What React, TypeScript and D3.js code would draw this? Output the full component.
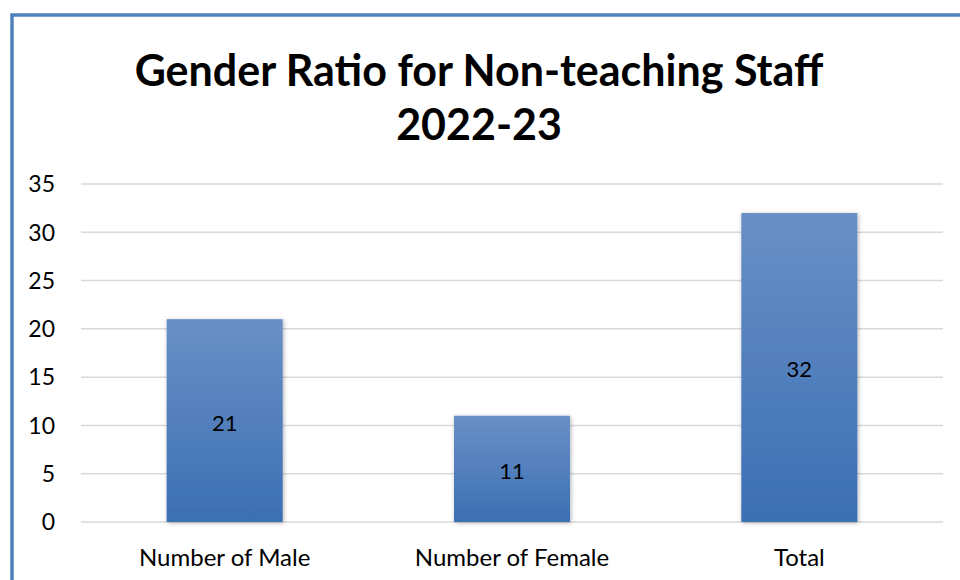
import React from "react"
import * as d3 from "d3"

const categories = ["Number of Male", "Number of Female", "Total"]
const values = [21, 11, 32]
const yTicks = [0, 5, 10, 15, 20, 25, 30, 35]
const titleLines = ["Gender Ratio for Non-teaching Staff", "2022-23"]

const W = 960
const H = 580
const plot = { left: 81, right: 943, top: 184, bottom: 522 }
const font = "Lato, 'Open Sans', sans-serif"

export default function App() {
    const x = d3.scaleBand<string>()
        .domain(categories)
        .range([plot.left, plot.right])
        .paddingInner(0.596)
        .paddingOuter(0.298)
    const y = d3.scaleLinear()
        .domain([0, 35])
        .range([plot.bottom, plot.top])

    return (
        <svg width={W} height={H} style={{ position: "absolute", left: 0, top: 0, background: "#fff" }}>
            <defs>
                <linearGradient id="barFill" x1="0" y1="0" x2="0" y2="1">
                    <stop offset="0%" stopColor="#6a90c6" />
                    <stop offset="100%" stopColor="#3b6fb3" />
                </linearGradient>
                <filter id="shadow" x="-20%" y="-10%" width="140%" height="120%">
                    <feDropShadow dx="1" dy="1" stdDeviation="2" floodColor="#000" floodOpacity="0.3" />
                </filter>
            </defs>
            <rect x={12} y={15} width={980} height={620} fill="none" stroke="#4f81bd" strokeWidth={3.5} />

            {titleLines.map((t, i) => (
                <text key={t} x={479} y={86 + i * 54} textAnchor="middle"
                    fontFamily={font} fontWeight="bold" fontSize={43} fill="#000">{t}</text>
            ))}

            {yTicks.map(t => (
                <g key={t}>
                    <line x1={plot.left} x2={plot.right} y1={y(t)} y2={y(t)} stroke="#d9d9d9" strokeWidth={1.5} />
                    <text x={55} y={y(t)} dy="0.36em" textAnchor="end" fontFamily={font} fontSize={23} fill="#000">{t}</text>
                </g>
            ))}

            {categories.map((c, i) => (
                <g key={c}>
                    <rect x={x(c)} y={y(values[i])} width={x.bandwidth()} height={y(0) - y(values[i])}
                        fill="url(#barFill)" filter="url(#shadow)" />
                    <text x={(x(c) as number) + x.bandwidth() / 2} y={(y(values[i]) + y(0)) / 2 + 2} dy="0.36em"
                        textAnchor="middle" fontFamily={font} fontSize={22} fill="#000">{values[i]}</text>
                    <text x={(x(c) as number) + x.bandwidth() / 2} y={566} textAnchor="middle"
                        fontFamily={font} fontSize={24} fill="#000">{c}</text>
                </g>
            ))}
        </svg>
    )
}
